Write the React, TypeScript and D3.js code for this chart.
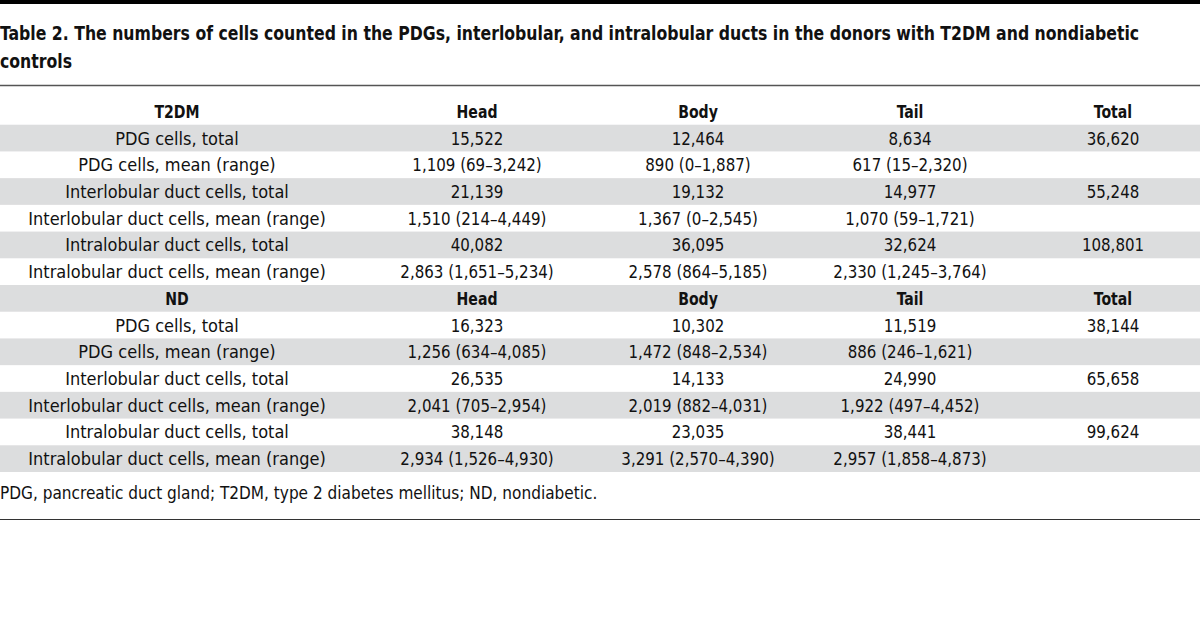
import React from "react";
import * as d3 from "d3";

const titleLines = [
  "Table 2. The numbers of cells counted in the PDGs, interlobular, and intralobular ducts in the donors with T2DM and nondiabetic",
  "controls",
];
const columns = ["Head", "Body", "Tail", "Total"];
const rowLabels = [
  "PDG cells, total",
  "PDG cells, mean (range)",
  "Interlobular duct cells, total",
  "Interlobular duct cells, mean (range)",
  "Intralobular duct cells, total",
  "Intralobular duct cells, mean (range)",
];
const groups = ["T2DM", "ND"];
const t2dmValues = [
  ["15,522", "12,464", "8,634", "36,620"],
  ["1,109 (69–3,242)", "890 (0–1,887)", "617 (15–2,320)", ""],
  ["21,139", "19,132", "14,977", "55,248"],
  ["1,510 (214–4,449)", "1,367 (0–2,545)", "1,070 (59–1,721)", ""],
  ["40,082", "36,095", "32,624", "108,801"],
  ["2,863 (1,651–5,234)", "2,578 (864–5,185)", "2,330 (1,245–3,764)", ""],
];
const ndValues = [
  ["16,323", "10,302", "11,519", "38,144"],
  ["1,256 (634–4,085)", "1,472 (848–2,534)", "886 (246–1,621)", ""],
  ["26,535", "14,133", "24,990", "65,658"],
  ["2,041 (705–2,954)", "2,019 (882–4,031)", "1,922 (497–4,452)", ""],
  ["38,148", "23,035", "38,441", "99,624"],
  ["2,934 (1,526–4,930)", "3,291 (2,570–4,390)", "2,957 (1,858–4,873)", ""],
];
const footnote = "PDG, pancreatic duct gland; T2DM, type 2 diabetes mellitus; ND, nondiabetic.";

const W = 1200;
const H = 629;
const FONT = "'Liberation Sans Narrow', 'DejaVu Sans Condensed', 'Roboto Condensed', sans-serif";
const colCenters = [177, 477, 698, 910, 1113];

type Row = { cells: string[]; header: boolean };

export default function App() {
  const rows: Row[] = [];
  [t2dmValues, ndValues].forEach((vals, g) => {
    rows.push({ cells: [groups[g], ...columns], header: true });
    vals.forEach((v, i) => rows.push({ cells: [rowLabels[i], ...v], header: false }));
  });

  const y = d3
    .scaleBand<number>()
    .domain(d3.range(rows.length))
    .range([98, 472])
    .padding(0);
  const x = d3
    .scaleOrdinal<number, number>()
    .domain(d3.range(colCenters.length))
    .range(colCenters);

  const squeeze = (header: boolean, j: number) => (header ? 0.87 : j === 0 ? 1.0 : 0.93);

  return (
    <svg
      width={W}
      height={H}
      style={{ position: "absolute", left: 0, top: 0, background: "#fff" }}
      fontFamily={FONT}
    >
      <rect x={0} y={0} width={W} height={4} fill="#000" />
      {titleLines.map((t, i) => (
        <text
          key={i}
          transform={`translate(0,${40 + i * 28}) scale(0.896,1)`}
          fontSize={19.5}
          fontWeight="bold"
          fill="#111"
        >
          {t}
        </text>
      ))}
      <line x1={0} x2={W} y1={85.5} y2={85.5} stroke="#555" strokeWidth={1.5} />
      {rows.map((r, i) => (
        <g key={i} transform={`translate(0,${y(i)})`}>
          {i % 2 === 1 && <rect x={0} y={0} width={W} height={y.bandwidth()} fill="#dcddde" />}
          {r.cells.map((c, j) => (
            <text
              key={j}
              transform={`translate(${x(j)},${y.bandwidth() / 2 + 6.5}) scale(${squeeze(r.header, j)},1)`}
              textAnchor="middle"
              fontSize={18}
              fontWeight={r.header ? "bold" : "normal"}
              fill="#111"
            >
              {c}
            </text>
          ))}
        </g>
      ))}
      <text transform="translate(0,499) scale(0.948,1)" fontSize={18} fill="#111">
        {footnote}
      </text>
      <line x1={0} x2={W} y1={519.5} y2={519.5} stroke="#333" strokeWidth={1} />
    </svg>
  );
}
